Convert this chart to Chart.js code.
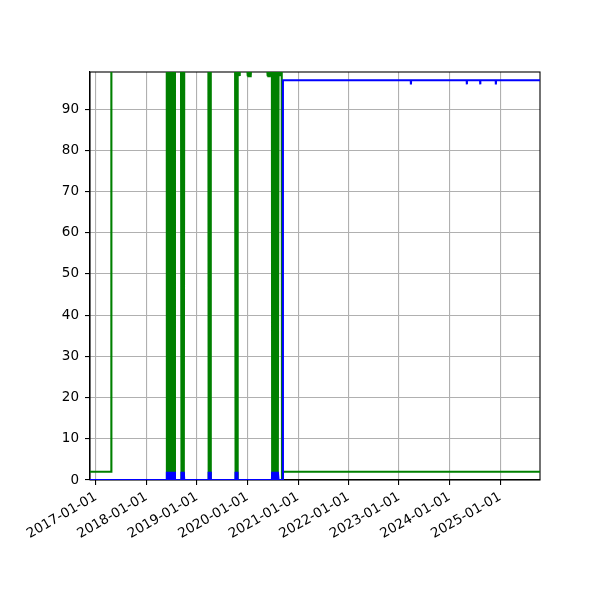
<html>
<head>
    <meta charset="utf-8">
    <title>chart</title>
    <script src="https://cdn.jsdelivr.net/npm/chart.js"></script>
    <style>
        body { margin: 0; background: #fff; }
    </style>
</head>
<body>
<canvas id="myChart" width="600" height="600"></canvas>
<script>

    // x range of the axes
    var xStart = "2016-11-19";
    var xEnd = "2025-10-16";

    var yearTicks = ["2017-01-01", "2018-01-01", "2019-01-01", "2020-01-01", "2021-01-01",
                     "2022-01-01", "2023-01-01", "2024-01-01", "2025-01-01"];
    var yTicks = [0, 10, 20, 30, 40, 50, 60, 70, 80, 90];
    var yMax = 99;

    // green series
    var greenDates = [
        "2016-11-19", "2017-04-21", "2017-04-22", "2017-04-23",
        "2018-05-28", "2018-05-29", "2018-06-01", "2018-06-04", "2018-06-07", "2018-06-10",
        "2018-06-13", "2018-06-16", "2018-06-19", "2018-06-22", "2018-06-25", "2018-06-28",
        "2018-07-01", "2018-07-04", "2018-07-07", "2018-07-10", "2018-07-13", "2018-07-16",
        "2018-07-19", "2018-07-22", "2018-07-26",
        "2018-09-08", "2018-09-10", "2018-09-13", "2018-09-16", "2018-09-19", "2018-09-22",
        "2018-09-25", "2018-09-28", "2018-10-01",
        "2019-03-25", "2019-03-27", "2019-03-30", "2019-04-02", "2019-04-05", "2019-04-08", "2019-04-11",
        "2019-10-04", "2019-10-06", "2019-10-09", "2019-10-12", "2019-10-15", "2019-10-18", "2019-10-21",
        "2019-10-24", "2019-10-27", "2019-10-30", "2019-11-02", "2019-11-05", "2019-11-08",
        "2019-12-30", "2020-01-02", "2020-01-05", "2020-01-08", "2020-01-11", "2020-01-14",
        "2020-01-17", "2020-01-20", "2020-01-23", "2020-01-26", "2020-01-28",
        "2020-05-22", "2020-05-25", "2020-05-28", "2020-05-31", "2020-06-03", "2020-06-06",
        "2020-06-09", "2020-06-12", "2020-06-14",
        "2020-06-26", "2020-06-28", "2020-07-01", "2020-07-04", "2020-07-07", "2020-07-10",
        "2020-07-13", "2020-07-16", "2020-07-19", "2020-07-22", "2020-07-25", "2020-07-28",
        "2020-07-31", "2020-08-03", "2020-08-06", "2020-08-09", "2020-08-13",
        "2020-08-20", "2020-08-23", "2020-08-26", "2020-08-29", "2020-09-01", "2020-09-04",
        "2020-09-06", "2020-09-07", "2020-09-14", "2020-09-15", "2025-10-16"
    ];
    var greenValues = [
        2, 2, 86, 100,
        100, 0, 100, 0, 100, 0,
        100, 0, 100, 0, 100, 0,
        100, 0, 100, 0, 100, 0,
        100, 0, 100,
        100, 0, 100, 0, 100, 0,
        100, 0, 100,
        100, 0, 100, 0, 100, 0, 100,
        100, 0, 100, 0, 100, 0, 100,
        98, 100, 98, 100, 98, 100,
        100, 98, 100, 98, 100, 98,
        100, 98, 100, 98, 100,
        100, 98, 100, 98, 100, 98,
        100, 98, 100,
        100, 0, 100, 0, 100, 0,
        100, 0, 100, 0, 100, 0,
        100, 0, 100, 0, 100,
        100, 98, 100, 98, 100, 98,
        100, 0, 0, 2, 2
    ];

    // blue series
    var blueDates = [
        "2016-11-19",
        "2018-05-28", "2018-05-29", "2018-06-01", "2018-06-04", "2018-06-07", "2018-06-10",
        "2018-06-13", "2018-06-16", "2018-06-19", "2018-06-22", "2018-06-25", "2018-06-28",
        "2018-07-01", "2018-07-04", "2018-07-07", "2018-07-10", "2018-07-13", "2018-07-16",
        "2018-07-19", "2018-07-22", "2018-07-26",
        "2018-09-08", "2018-09-10", "2018-09-13", "2018-09-16", "2018-09-19", "2018-09-22",
        "2018-09-25", "2018-09-28", "2018-10-01",
        "2019-03-25", "2019-03-27", "2019-03-30", "2019-04-02", "2019-04-05", "2019-04-08", "2019-04-11",
        "2019-10-04", "2019-10-06", "2019-10-09", "2019-10-12", "2019-10-15", "2019-10-18", "2019-10-21",
        "2020-06-26", "2020-06-28", "2020-07-01", "2020-07-04", "2020-07-07", "2020-07-10",
        "2020-07-13", "2020-07-16", "2020-07-19", "2020-07-22", "2020-07-25", "2020-07-28",
        "2020-07-31", "2020-08-03", "2020-08-06", "2020-08-09", "2020-08-13",
        "2020-09-12", "2020-09-13", "2020-09-14",
        "2023-03-27", "2023-03-28", "2023-03-29",
        "2024-05-04", "2024-05-05", "2024-05-06",
        "2024-08-09", "2024-08-10", "2024-08-11",
        "2024-11-30", "2024-12-01", "2024-12-02",
        "2025-10-16"
    ];
    var blueValues = [
        0,
        0, 2, 0, 2, 0, 2,
        0, 2, 0, 2, 0, 2,
        0, 2, 0, 2, 0, 2,
        0, 2, 0,
        0, 2, 0, 2, 0, 2,
        0, 2, 0,
        0, 2, 0, 2, 0, 2, 0,
        0, 2, 0, 2, 0, 2, 0,
        0, 2, 0, 2, 0, 2,
        0, 2, 0, 2, 0, 2,
        0, 2, 0, 2, 0,
        0, 40, 97,
        97, 96, 97,
        97, 96, 97,
        97, 96, 97,
        97, 96, 97,
        97
    ];

    function toPoints(dates, values) {
        var pts = [];
        for (var i = 0; i < dates.length; i++) {
            pts.push({x: Date.parse(dates[i]), y: values[i]});
        }
        return pts;
    }

    // box around the plot area, like matplotlib spines
    var frame = {
        id: 'frame',
        beforeDatasetsDraw: function (chart) {
            var a = chart.chartArea;
            var ctx = chart.ctx;
            ctx.save();
            ctx.strokeStyle = '#000';
            ctx.lineWidth = 1.1;
            ctx.strokeRect(a.left, a.top, a.right - a.left, a.bottom - a.top);
            ctx.restore();
        }
    };

    const config = {
        type: 'line',
        data: {
            datasets: [{
                data: toPoints(blueDates, blueValues),
                borderColor: '#0000ff',
                borderWidth: 2.1,
                pointRadius: 0,
                tension: 0
            }, {
                data: toPoints(greenDates, greenValues),
                borderColor: '#008000',
                borderWidth: 2.1,
                pointRadius: 0,
                tension: 0
            }]
        },
        options: {
            responsive: false,
            animation: false,
            devicePixelRatio: 1,
            layout: {padding: {left: 0, right: 60, top: 72, bottom: 0}},
            plugins: {
                legend: {display: false},
                tooltip: {enabled: false}
            },
            scales: {
                x: {
                    type: 'linear',
                    min: Date.parse(xStart),
                    max: Date.parse(xEnd),
                    afterBuildTicks: function (axis) {
                        axis.ticks = yearTicks.map(function (s) { return {value: Date.parse(s)}; });
                    },
                    afterFit: function (axis) { axis.height = 120; },
                    grid: {color: '#b0b0b0', lineWidth: 1.1, tickColor: '#000', tickLength: 5},
                    border: {color: '#000', width: 1.1},
                    ticks: {
                        color: '#000',
                        font: {family: "'DejaVu Sans'", size: 13.5},
                        minRotation: 30,
                        maxRotation: 30,
                        autoSkip: false,
                        padding: 4,
                        callback: function (v) { return new Date(v).toISOString().slice(0, 10); }
                    }
                },
                y: {
                    min: 0,
                    max: yMax,
                    afterBuildTicks: function (axis) {
                        axis.ticks = yTicks.map(function (v) { return {value: v}; });
                    },
                    afterFit: function (axis) { axis.width = 90; },
                    grid: {color: '#b0b0b0', lineWidth: 1.1, tickColor: '#000', tickLength: 5},
                    border: {color: '#000', width: 1.1},
                    ticks: {
                        color: '#000',
                        font: {family: "'DejaVu Sans'", size: 13.5},
                        padding: 6
                    }
                }
            }
        },
        plugins: [frame]
    };

    const myChart = new Chart(document.getElementById('myChart'), config);

</script>
</body>
</html>
